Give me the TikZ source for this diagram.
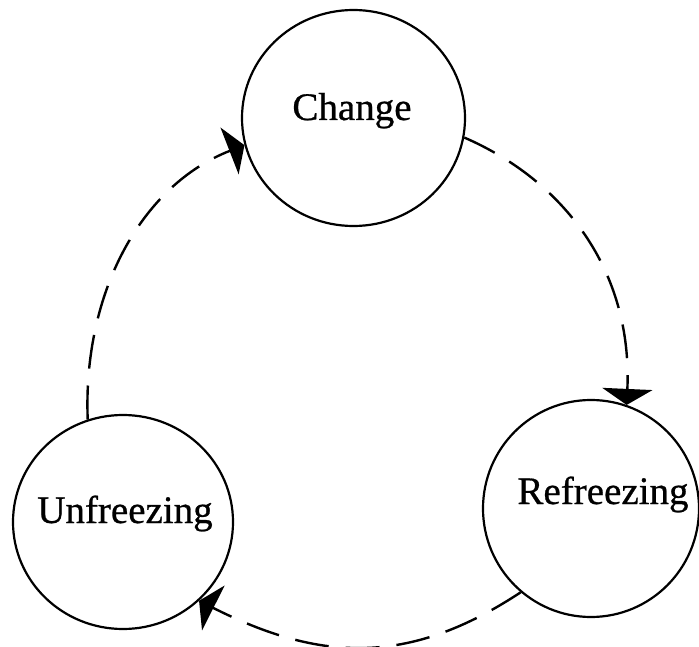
\documentclass[tikz,border=0pt]{standalone}
\usepackage{fontspec}
\setmainfont{Liberation Serif}
\newfontfamily\stagefont[FakeBold=0.7]{Liberation Serif}
\usetikzlibrary{shapes.geometric,arrows.meta}

\tikzset{
  stage/.style={ellipse, draw, line width=2.2pt, inner sep=0pt},
  stagelabel/.style={anchor=base, inner sep=0pt,
    font=\stagefont\fontsize{39}{44}\selectfont},
  flow/.style={line width=2.4pt, dash pattern=on 34pt off 17pt,
    -{Triangle[width=50pt,length=16pt]}},
}

\begin{document}
\begin{tikzpicture}[x=1pt,y=-1pt]
  \useasboundingbox (0,0) rectangle (699,647);

  % the three stages of the cycle
  \node[stage, minimum width=223pt, minimum height=216pt] (chg) at (353.5,118) {};
  \node[stage, minimum width=220pt, minimum height=214pt] (unf) at (123,522) {};
  \node[stage, minimum width=216pt, minimum height=217pt] (ref) at (591,508.5) {};

  % stage names
  \node[stagelabel] (chgtxt) at (352,120) {Change};
  \node[stagelabel] (unftxt) at (125,523) {Unfreezing};
  \node[stagelabel] (reftxt) at (603,504) {Refreezing};

  % dashed arcs linking the stages
  \draw[flow] (unf.109) .. controls +(-5,-127) and +(-103,40) .. (chg.194);
  \draw[flow] (chg.350) .. controls +(99,43) and +(6,-135) .. (ref.71);
  \draw[flow] (ref.230) .. controls +(-112,74) and +(121,61) .. (unf.314);
\end{tikzpicture}
\end{document}
